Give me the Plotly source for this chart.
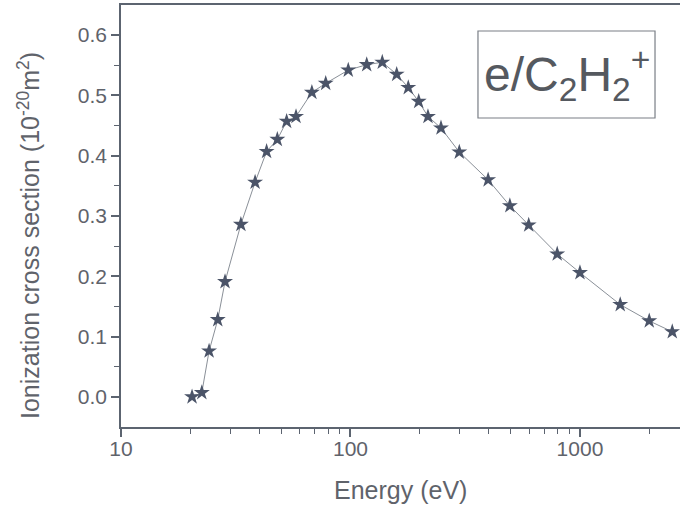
import plotly.graph_objects as go

# Data
energy_eV = [20.4, 22.5, 24.2, 26.4, 28.4, 33.3, 38.4, 43.1, 48.0, 52.7, 57.9,
             67.9, 78.0, 97.8, 117.7, 137.6, 159, 178.6, 198.3, 217.6, 248,
             298, 398, 495, 598, 796, 1000, 1498, 2004, 2525]
cross_section = [0.000, 0.007, 0.076, 0.128, 0.191, 0.286, 0.356, 0.407, 0.427,
                 0.457, 0.465, 0.505, 0.520, 0.542, 0.551, 0.555, 0.535, 0.513,
                 0.490, 0.465, 0.446, 0.406, 0.360, 0.317, 0.285, 0.237, 0.206,
                 0.153, 0.126, 0.108]

x_major_ticks = [10, 100, 1000]
x_major_labels = ["10", "100", "1000"]
x_minor_ticks = [20, 30, 40, 50, 60, 70, 80, 90, 200, 300, 400, 500, 600, 700,
                 800, 900, 2000]
y_major_ticks = [0.0, 0.1, 0.2, 0.3, 0.4, 0.5, 0.6]
y_minor_ticks = [0.05, 0.15, 0.25, 0.35, 0.45, 0.55]

AXIS_COLOR = "#5c6470"
TEXT_COLOR = "#5f636b"
FONT = "Liberation Sans, Arial, sans-serif"

fig = go.Figure()
fig.add_trace(go.Scatter(
    x=energy_eV, y=cross_section, mode="lines+markers",
    line=dict(color="#8a9098", width=1),
    marker=dict(symbol="star", size=12, color="#4b5468",
                line=dict(width=0)),
    showlegend=False,
    cliponaxis=False,
))

fig.update_layout(
    width=680, height=505,
    margin=dict(l=121, r=0, t=5, b=78),
    paper_bgcolor="white", plot_bgcolor="white",
    font=dict(family=FONT, color=TEXT_COLOR, size=21),
    xaxis=dict(
        type="log", range=[1, 3.436],
        tickvals=x_major_ticks,
        ticktext=x_major_labels,
        ticks="outside", ticklen=8, tickwidth=1.5, tickcolor=AXIS_COLOR,
        ticklabelstandoff=-6,
        showline=True, linecolor=AXIS_COLOR, linewidth=1.5, mirror=True,
        showgrid=False, zeroline=False,
        tickfont=dict(size=21, color=TEXT_COLOR),
        minor=dict(tickvals=x_minor_ticks, ticks="outside", ticklen=5,
                   tickwidth=1.2, tickcolor=AXIS_COLOR, showgrid=False),
    ),
    yaxis=dict(
        range=[-0.05, 0.65],
        tickvals=y_major_ticks, tickformat=".1f",
        ticks="outside", ticklen=8, tickwidth=1.5, tickcolor=AXIS_COLOR,
        showline=True, linecolor=AXIS_COLOR, linewidth=1.5, mirror=False,
        showgrid=False, zeroline=False,
        tickfont=dict(size=21, color=TEXT_COLOR),
        minor=dict(tickvals=y_minor_ticks, ticks="outside", ticklen=5,
                   tickwidth=1.2, tickcolor=AXIS_COLOR, showgrid=False),
    ),
    shapes=[dict(type="rect", xref="paper", yref="paper",
                 x0=0.6386, x1=0.9553, y0=0.7322, y1=0.9384,
                 line=dict(color="#7a7f86", width=1.2))],
    annotations=[
        dict(text="e/C<sub>2</sub>H<sub>2</sub><sup>+</sup>",
             xref="paper", yref="paper", x=0.797, y=0.835,
             xanchor="center", yanchor="middle", showarrow=False,
             font=dict(size=48, color="#55595f", family=FONT)),
        dict(text="Energy (eV)", xref="paper", yref="paper",
             x=0.5, y=-0.149, xanchor="center", yanchor="middle",
             showarrow=False, font=dict(size=25, color=TEXT_COLOR, family=FONT)),
        dict(text="Ionization cross section (10<sup>-20</sup>m<sup>2</sup>)",
             xref="paper", yref="paper", x=-0.1646, y=0.455,
             xanchor="center", yanchor="middle", textangle=-90,
             showarrow=False, font=dict(size=25, color=TEXT_COLOR, family=FONT)),
    ],
)

fig.write_html(
    "out.html",
    config={"displayModeBar": False},
    post_script="document.body.style.margin='0';document.body.style.overflow='hidden';",
)
